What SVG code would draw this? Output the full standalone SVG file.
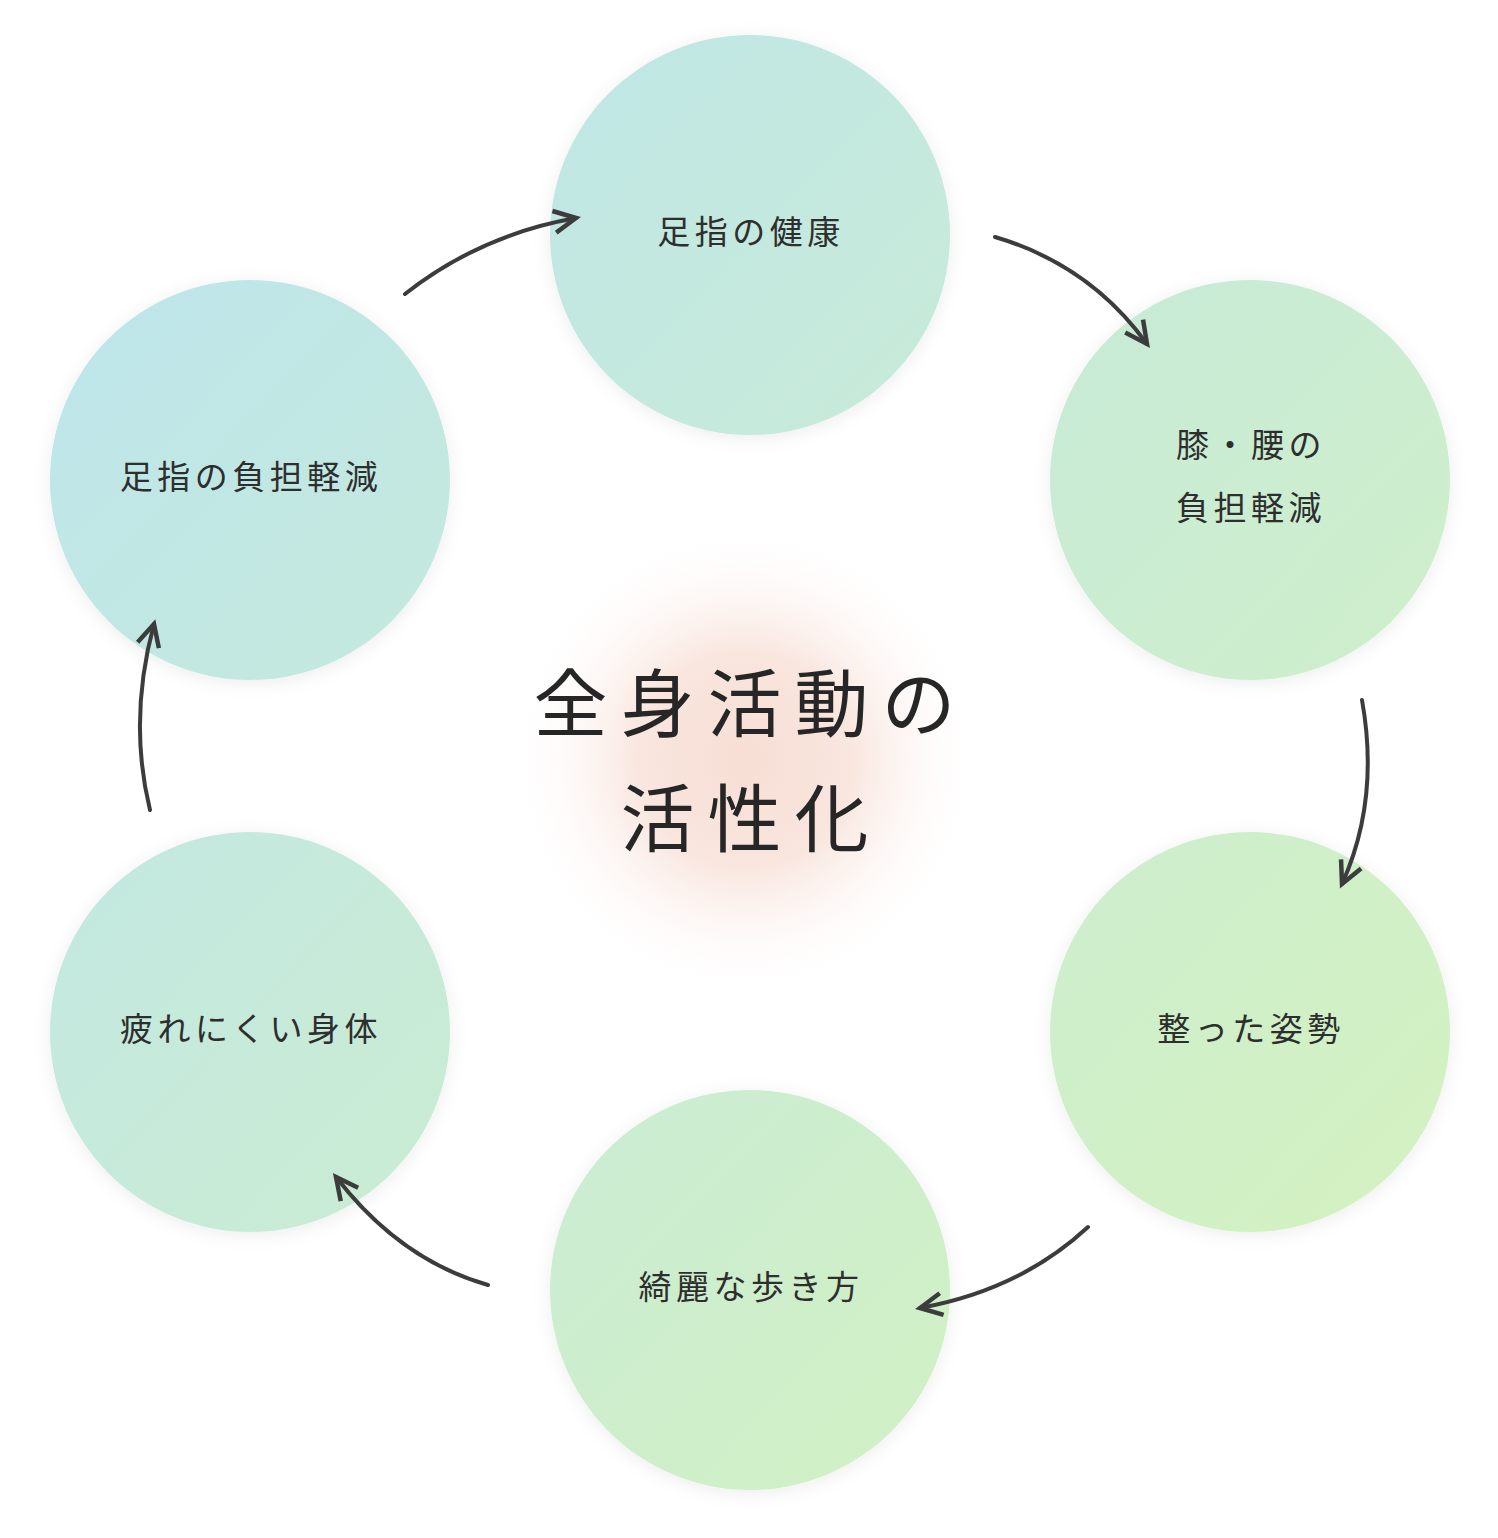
<svg xmlns="http://www.w3.org/2000/svg" width="1498" height="1538" viewBox="0 0 1498 1538">
<defs>
<linearGradient id="g" gradientUnits="userSpaceOnUse" x1="60" y1="120" x2="1440" y2="1440">
<stop offset="0" stop-color="#bce4ee"/>
<stop offset="1" stop-color="#d6f3bc"/>
</linearGradient>
<radialGradient id="glow" cx="745" cy="760" r="240" gradientUnits="userSpaceOnUse">
<stop offset="0" stop-color="#f7ded4"/>
<stop offset="0.45" stop-color="#f9e6df"/>
<stop offset="1" stop-color="#ffffff" stop-opacity="0"/>
</radialGradient>
<filter id="sh" x="-20%" y="-20%" width="140%" height="140%">
<feDropShadow dx="0" dy="3" stdDeviation="9" flood-color="#000" flood-opacity="0.07"/>
</filter>
<marker id="ah" markerUnits="userSpaceOnUse" markerWidth="40" markerHeight="40" viewBox="-30 -20 40 40" refX="0" refY="0" orient="auto">
<path d="M-22,-11 L0,0 L-22,11" fill="none" stroke="#3c3c3c" stroke-width="4.5" stroke-linejoin="miter"/>
</marker>
<style>
.node circle{fill:url(#g);filter:url(#sh)}
.lbl{font-family:"Noto Sans CJK JP","Noto Sans",sans-serif;font-size:33px;fill:#2e2e2e;letter-spacing:4.5px;text-anchor:middle}
.ttl{font-family:"Noto Sans CJK JP","Noto Sans",sans-serif;font-weight:400;font-size:74px;fill:#262626;letter-spacing:13px;text-anchor:middle}
.con path{fill:none;stroke:#3c3c3c;stroke-width:4;stroke-linecap:round;marker-end:url(#ah)}
</style>
</defs>
<rect width="1498" height="1538" fill="#ffffff"/>
<circle cx="745" cy="760" r="240" fill="url(#glow)"/>
<g id="center">
<text class="ttl" x="751" y="731">全身活動の</text>
<text class="ttl" x="751" y="846">活性化</text>
</g>
<g id="n1" class="node"><circle cx="750" cy="235" r="200"/><text class="lbl" x="751" y="244">足指の健康</text></g>
<g id="n2" class="node"><circle cx="1250" cy="480" r="200"/><text class="lbl" x="1251" y="457">膝・腰の</text><text class="lbl" x="1251" y="520">負担軽減</text></g>
<g id="n3" class="node"><circle cx="1250" cy="1032" r="200"/><text class="lbl" x="1251" y="1041">整った姿勢</text></g>
<g id="n4" class="node"><circle cx="750" cy="1290" r="200"/><text class="lbl" x="751" y="1299">綺麗な歩き方</text></g>
<g id="n5" class="node"><circle cx="250" cy="1032" r="200"/><text class="lbl" x="251" y="1041">疲れにくい身体</text></g>
<g id="n6" class="node"><circle cx="250" cy="480" r="200"/><text class="lbl" x="251" y="489">足指の負担軽減</text></g>
<g id="connectors" class="con">
<path d="M405,294 Q480,235 576,218"/>
<path d="M995,237 Q1090,265 1147,344"/>
<path d="M1362,700 Q1380,800 1342,884"/>
<path d="M1088,1227 Q1020,1290 920,1308"/>
<path d="M488,1285 Q400,1260 336,1177"/>
<path d="M150,810 Q128,720 154,624"/>
</g>
</svg>
